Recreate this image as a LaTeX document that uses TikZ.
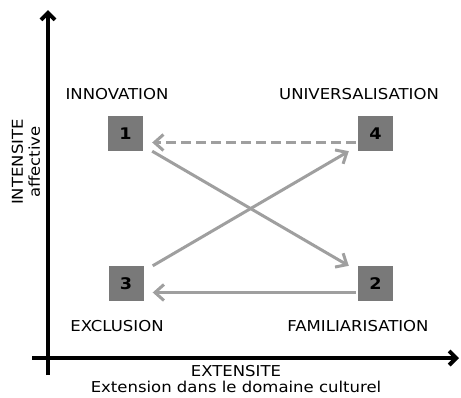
\documentclass[tikz,border=0pt]{standalone}
\usepackage{fontspec}
\setmainfont[FakeStretch=1.1]{DejaVu Sans}
\usetikzlibrary{arrows.meta}
\begin{document}
\begin{tikzpicture}[x=1pt, y=-1pt,
    	 every node/.style={font=\fontsize{15}{17}\selectfont}]
    	 
    	 % styles of the boxes and arrows
    	 \tikzstyle{box}=[fill=gray!95!black, minimum size=35pt, inner sep=0pt, font=\fontsize{16}{18}\selectfont\bfseries]
    	 \tikzstyle{flow}=[draw=gray!75, line width=3pt, -{Straight Barb[length=9pt, width=16pt]}]
    	 \tikzstyle{axis}=[line width=4pt, -{Straight Barb[length=7pt, width=14pt]}]
    	 
    	 \useasboundingbox (0,0) rectangle (461,397);
    	 
			% axes
			\coordinate (xend) at (459,358);
			\coordinate (yend) at (48,10);
			\draw [axis] (32,358) -- (xend);
			\draw [axis] (48,375) -- (yend);
			
			% boxes
			\node [box] (b1) at (125.5,133.5) {1};
			\node [box] (b4) at (375.5,133.5) {4};
			\node [box] (b3) at (126,283.5) {3};
			\node [box] (b2) at (375.5,283.5) {2};
			
			% labels
			\node (innov) at (117,94) {INNOVATION};
			\node (univ) at (359,94) {UNIVERSALISATION};
			\node (excl) at (117,326) {EXCLUSION};
			\node (famil) at (358,326) {FAMILIARISATION};
			\node [align=center, inner sep=0pt, font=\fontsize{15}{16}\selectfont] (xlab) at (236,379) {EXTENSITE\\Extension dans le domaine culturel};
			\node [rotate=90, align=center, inner sep=0pt] (ylab) at (26,162) {INTENSITE\\affective};
			
			% arrows
			\draw [flow, dash pattern=on 10pt off 5pt] ([xshift=-2pt, yshift=-9pt]b4.west) -- ([xshift=9pt, yshift=-9pt]b1.east);
			\draw [flow] ([xshift=-2pt, yshift=-9pt]b2.west) -- ([xshift=9pt, yshift=-9pt]b3.east);
			\draw [flow] ([xshift=9pt]b1.south east) -- ([xshift=-9pt]b2.north west);
			\draw [flow] ([xshift=9pt]b3.north east) -- ([xshift=-9pt]b4.south west);
    		
		\end{tikzpicture}
\end{document}
